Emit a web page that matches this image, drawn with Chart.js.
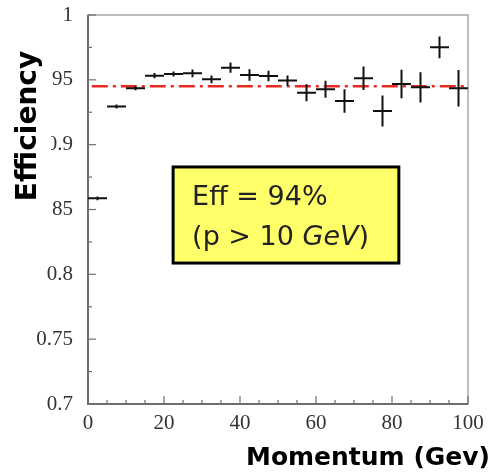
<!DOCTYPE html>
<html>
<head>
<meta charset="utf-8">
<script src="https://cdn.jsdelivr.net/npm/chart.js@4"></script>
<style>
    html, body { margin: 0; padding: 0; background: #fff; }
    #wrap { width: 491px; height: 474px; position: relative; }
</style>
</head>
<body>
<div id="wrap"><canvas id="effChart"></canvas></div>
<script>
// momentum bin centres (GeV) and half widths
const momentum = [2.5, 7.5, 12.5, 17.5, 22.5, 27.5, 32.5, 37.5, 42.5, 47.5,
                  52.5, 57.5, 62.5, 67.5, 72.5, 77.5, 82.5, 87.5, 92.5, 97.5];
const binHalfWidth = 2.5;
const efficiency = [0.8586, 0.9294, 0.9435, 0.9532, 0.9545, 0.955, 0.9504, 0.9594, 0.9537, 0.953,
                    0.9494, 0.940, 0.9427, 0.9337, 0.9512, 0.926, 0.9468, 0.9442, 0.9751, 0.9435];
const effError = [0.0015, 0.0015, 0.0015, 0.002, 0.002, 0.003, 0.003, 0.004, 0.0045, 0.004,
                  0.004, 0.0065, 0.0065, 0.009, 0.009, 0.012, 0.011, 0.0116, 0.0084, 0.014];
const meanEff = 0.945;
const fitRange = [1, 100];
const yTicks = [0.7, 0.75, 0.8, 0.85, 0.9, 0.95, 1];
const xTicks = [0, 20, 40, 60, 80, 100];

// text box, given in axis units
const boxX = [22.4, 81.8];
const boxY = [0.8828, 0.8087];

const framePlugin = {
    id: 'frame',
    beforeDatasetsDraw(chart) {
        const { ctx, chartArea: a, scales: { x, y } } = chart;
        ctx.save();
        ctx.strokeStyle = '#a8a8a8';
        ctx.lineWidth = 1.5;
        ctx.strokeRect(a.left, a.top, a.right - a.left, a.bottom - a.top);
        ctx.strokeStyle = '#6e6e6e';
        ctx.lineWidth = 2;
        ctx.beginPath();
        ctx.moveTo(a.left, a.top);
        ctx.lineTo(a.left, a.bottom);
        ctx.lineTo(a.right, a.bottom);
        ctx.stroke();
        ctx.lineWidth = 1.2;
        for (let v = 0; v <= 100; v += 5) {
            const px = x.getPixelForValue(v);
            const len = v % 20 === 0 ? 8 : 4;
            ctx.beginPath();
            ctx.moveTo(px, a.bottom);
            ctx.lineTo(px, a.bottom - len);
            ctx.stroke();
        }
        for (let i = 0; i <= 12; i++) {
            const v = 0.7 + i * 0.025;
            const py = y.getPixelForValue(v);
            const len = i % 2 === 0 ? 8 : 4;
            ctx.beginPath();
            ctx.moveTo(a.left, py);
            ctx.lineTo(a.left + len, py);
            ctx.stroke();
        }
        ctx.restore();
    }
};

const crossPlugin = {
    id: 'crosses',
    afterDatasetsDraw(chart) {
        const { ctx, scales: { x, y } } = chart;
        ctx.save();
        ctx.strokeStyle = '#111';
        ctx.lineWidth = 2;
        momentum.forEach((m, i) => {
            const cx = x.getPixelForValue(m);
            const cy = y.getPixelForValue(efficiency[i]);
            ctx.beginPath();
            ctx.moveTo(x.getPixelForValue(m - binHalfWidth), cy);
            ctx.lineTo(x.getPixelForValue(m + binHalfWidth), cy);
            ctx.moveTo(cx, y.getPixelForValue(efficiency[i] - effError[i]));
            ctx.lineTo(cx, y.getPixelForValue(efficiency[i] + effError[i]));
            ctx.stroke();
        });
        ctx.restore();
    }
};

const labelPlugin = {
    id: 'labels',
    afterDraw(chart) {
        const { ctx, scales: { x, y } } = chart;
        ctx.save();

        // yellow result box
        const bx = x.getPixelForValue(boxX[0]);
        const by = y.getPixelForValue(boxY[0]);
        const bw = x.getPixelForValue(boxX[1]) - bx;
        const bh = y.getPixelForValue(boxY[1]) - by;
        ctx.fillStyle = '#ffff6a';
        ctx.fillRect(bx, by, bw, bh);
        ctx.strokeStyle = '#000';
        ctx.lineWidth = 3;
        ctx.strokeRect(bx, by, bw, bh);

        ctx.fillStyle = '#222';
        ctx.textAlign = 'left';
        ctx.textBaseline = 'alphabetic';
        ctx.font = '27px "DejaVu Sans"';
        ctx.fillText('Eff = 94%', bx + 19, by + 38);
        let tx = bx + 19;
        const part1 = '(p > 10 ';
        ctx.fillText(part1, tx, by + 78);
        tx += ctx.measureText(part1).width;
        ctx.font = 'italic 27px "DejaVu Sans"';
        ctx.fillText('GeV', tx, by + 78);
        tx += ctx.measureText('GeV').width;
        ctx.font = '27px "DejaVu Sans"';
        ctx.fillText(')', tx, by + 78);

        // axis titles
        ctx.fillStyle = '#fff';
        ctx.fillRect(0, 40, 51, 182);
        ctx.fillStyle = '#000';
        ctx.font = 'bold 28px "DejaVu Sans"';
        ctx.translate(29, 126);
        ctx.rotate(-Math.PI / 2);
        ctx.textAlign = 'center';
        ctx.textBaseline = 'middle';
        ctx.fillText('Efficiency', 0, 0);
        ctx.setTransform(1, 0, 0, 1, 0, 0);

        ctx.font = 'bold 25px "DejaVu Sans"';
        ctx.textAlign = 'right';
        ctx.textBaseline = 'alphabetic';
        ctx.fillText('Momentum (Gev)', 490, 465);
        ctx.restore();
    }
};

new Chart(document.getElementById('effChart'), {
    type: 'scatter',
    data: {
        datasets: [{
            label: 'Efficiency',
            data: momentum.map((m, i) => ({ x: m, y: efficiency[i] })),
            pointRadius: 0,
            showLine: false
        }, {
            type: 'line',
            label: 'Mean',
            data: fitRange.map((v) => ({ x: v, y: meanEff })),
            borderColor: '#ea2a22',
            borderWidth: 2.5,
            borderDash: [16, 5, 3, 5],
            pointRadius: 0,
            fill: false
        }]
    },
    options: {
        responsive: true,
        maintainAspectRatio: false,
        animation: false,
        layout: {
            padding: { left: 0, top: 15, right: 23, bottom: 0 }
        },
        plugins: {
            legend: { display: false },
            tooltip: { enabled: false }
        },
        scales: {
            x: {
                type: 'linear',
                min: 0,
                max: 100,
                border: { display: false },
                grid: { display: false, drawTicks: false },
                afterBuildTicks: (scale) => {
                    scale.ticks = xTicks.map((v) => ({ value: v }));
                },
                afterFit: (scale) => {
                    scale.height = 70;
                    scale.paddingLeft = 0;
                    scale.paddingRight = 0;
                },
                ticks: {
                    padding: 7,
                    maxRotation: 0,
                    color: '#333',
                    font: { family: "'Liberation Serif', serif", size: 21 }
                }
            },
            y: {
                type: 'linear',
                min: 0.7,
                max: 1,
                border: { display: false },
                grid: { display: false, drawTicks: false },
                afterBuildTicks: (scale) => {
                    scale.ticks = yTicks.map((v) => ({ value: v }));
                },
                afterFit: (scale) => {
                    scale.width = 88;
                    scale.paddingTop = 0;
                    scale.paddingBottom = 0;
                },
                ticks: {
                    padding: 15,
                    color: '#333',
                    font: { family: "'Liberation Serif', serif", size: 21 },
                    callback: function (value) {
                        return String(Number(value.toFixed(2)));
                    }
                }
            }
        }
    },
    plugins: [framePlugin, crossPlugin, labelPlugin]
});
</script>
</body>
</html>
